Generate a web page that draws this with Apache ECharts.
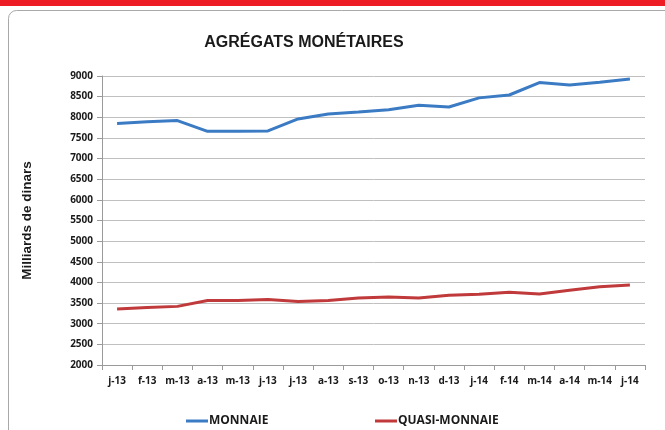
<!DOCTYPE html>
<html><head><meta charset="utf-8">
<script src="https://cdn.jsdelivr.net/npm/echarts@6/dist/echarts.min.js"></script>
<style>html,body{margin:0;padding:0;background:#fff}#c{width:665px;height:430px}</style>
</head><body><div id="c"></div>
<script>
const categories = ['j-13','f-13','m-13','a-13','m-13','j-13','j-13','a-13','s-13','o-13','n-13','d-13','j-14','f-14','m-14','a-14','m-14','j-14'];
const monnaie = [7850,7890,7920,7660,7660,7670,7960,8080,8130,8185,8290,8250,8470,8540,8840,8780,8850,8930];
const quasiMonnaie = [3355,3395,3420,3560,3565,3585,3540,3565,3620,3645,3620,3690,3715,3760,3720,3810,3895,3935];
const yTicks = {min:2000, max:9000, interval:500};
const title = 'AGRÉGATS MONÉTAIRES';
const yName = 'Milliards de dinars';
const seriesNames = ['MONNAIE','QUASI-MONNAIE'];

const chart = echarts.init(document.getElementById('c'), null, {renderer:'canvas'});
const lblFont = {fontFamily:'Open Sans', fontWeight:'bold', fontSize:10, color:'#1a1a1a'};
const legendText = {fontFamily:'Open Sans', fontWeight:'bold', fontSize:12, color:'#1a1a1a', padding:[0,0,0,-4]};
chart.setOption({
  animation:false,
  backgroundColor:'#fff',
  graphic:[
    {type:'rect', shape:{x:0,y:0,width:665,height:6}, style:{fill:'#ee1c25'}, silent:true},
    {type:'rect', shape:{x:8.5,y:10.5,width:680,height:440,r:[8,8,0,0]}, style:{fill:'none',stroke:'#a8a8a8',lineWidth:1}, silent:true}
  ],
  title:{text:title, left:299, top:30, textAlign:'center',
    textStyle:{fontFamily:'Liberation Sans', fontWeight:'bold', fontSize:16, color:'#1a1a1a'}},
  legend:[
    {left:181, top:410, itemWidth:22, itemHeight:3, icon:'rect', textStyle:legendText, data:[seriesNames[0]]},
    {left:370, top:410, itemWidth:22, itemHeight:3, icon:'rect', textStyle:legendText, data:[seriesNames[1]]}
  ],
  grid:{left:102, right:20, top:76, bottom:65},
  xAxis:{
    type:'category', data:categories, boundaryGap:true,
    axisLine:{lineStyle:{color:'#9a9a9a'}},
    axisTick:{show:true, alignWithLabel:false, length:5, lineStyle:{color:'#9a9a9a'}},
    axisLabel:Object.assign({margin:11, interval:0}, lblFont),
    splitLine:{show:false}
  },
  yAxis:{
    type:'value', min:yTicks.min, max:yTicks.max, interval:yTicks.interval,
    name:yName, nameLocation:'middle', nameGap:68, nameRotate:90,
    nameTextStyle:{fontFamily:'Liberation Sans', fontWeight:'bold', fontSize:13.5, color:'#1a1a1a'},
    axisLine:{show:true, lineStyle:{color:'#9a9a9a'}},
    axisTick:{show:true, length:5, lineStyle:{color:'#9a9a9a'}},
    axisLabel:Object.assign({margin:9, formatter:v=>String(v)}, lblFont),
    splitLine:{lineStyle:{color:'#c0c0c0', width:1}}
  },
  series:[
    {name:seriesNames[0], type:'line', data:monnaie, symbol:'none', lineStyle:{color:'#3b7bc4', width:3}, itemStyle:{color:'#3b7bc4'}},
    {name:seriesNames[1], type:'line', data:quasiMonnaie, symbol:'none', lineStyle:{color:'#c0393b', width:3}, itemStyle:{color:'#c0393b'}}
  ]
});
</script></body></html>
